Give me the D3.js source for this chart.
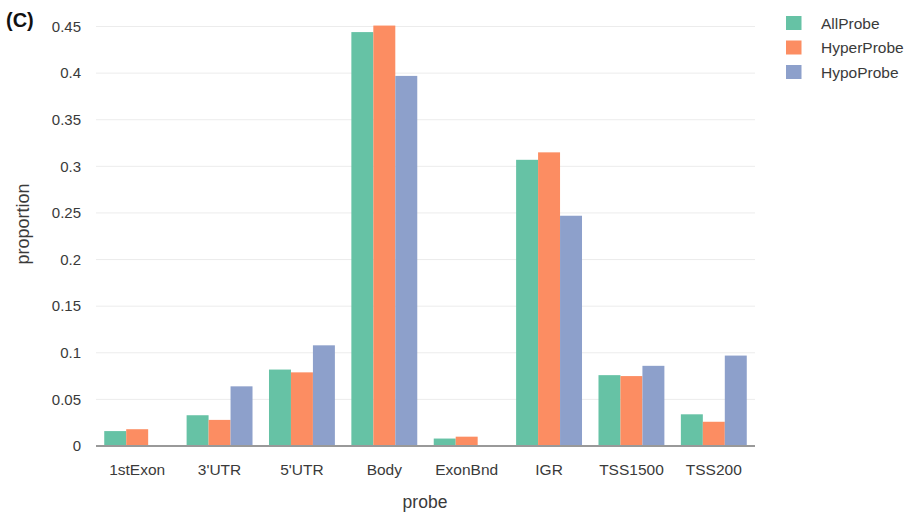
<!DOCTYPE html>
<html><head><meta charset="utf-8">
<script src="https://cdn.jsdelivr.net/npm/d3@7"></script>
<style>body{margin:0;background:#fff}svg{display:block;font-family:"Liberation Sans",Arial,sans-serif}</style>
</head><body><svg id="c" width="904" height="512"></svg>
<script>
const categories = ["1stExon","3'UTR","5'UTR","Body","ExonBnd","IGR","TSS1500","TSS200"];
const seriesNames = ["AllProbe","HyperProbe","HypoProbe"];
const allProbe   = [0.016,0.033,0.082,0.444,0.008,0.307,0.076,0.034];
const hyperProbe = [0.018,0.028,0.079,0.451,0.010,0.315,0.075,0.026];
const hypoProbe  = [0.000,0.064,0.108,0.397,0.000,0.247,0.086,0.097];
const yTicks = [0,0.05,0.1,0.15,0.2,0.25,0.3,0.35,0.4,0.45];
const colors = ["#66c2a5","#fc8d62","#8da0cb"];
const series = [allProbe, hyperProbe, hypoProbe];

const svg = d3.select("#c");
const pL = 96, pR = 755, pT = 26.5, pB = 446;
const x = d3.scaleBand().domain(categories).range([pL, pR]).paddingInner(0.2).paddingOuter(0.1);
const xs = d3.scaleBand().domain(seriesNames).range([0, x.bandwidth()]);
const y = d3.scaleLinear().domain([0, 0.45]).range([pB, pT]);
const txt = "#3a3a3a";

// grid
svg.append("g").selectAll("line").data(yTicks.filter(d=>d>0)).join("line")
  .attr("x1", pL).attr("x2", pR).attr("y1", d=>y(d)).attr("y2", d=>y(d))
  .attr("stroke", "#ececec").attr("stroke-width", 1);

// y axis labels
const yAxis = d3.axisLeft(y).tickValues(yTicks).tickSize(0).tickPadding(15).tickFormat(d=>String(+d.toFixed(2)));
const gy = svg.append("g").attr("transform", `translate(${pL},0)`).call(yAxis);
gy.select(".domain").remove();
gy.selectAll("text").attr("font-size", 15).attr("fill", txt).attr("font-family", "Liberation Sans, Arial, sans-serif");

// bars
const rows = categories.map((c,i)=>({c, vals: series.map((s,j)=>({name: seriesNames[j], v: s[i], color: colors[j]}))}));
svg.append("g").selectAll("g").data(rows).join("g")
  .attr("transform", d=>`translate(${x(d.c)},0)`)
  .selectAll("rect").data(d=>d.vals).join("rect")
  .attr("x", d=>xs(d.name)).attr("width", xs.bandwidth())
  .attr("y", d=>y(d.v)).attr("height", d=>pB - y(d.v))
  .attr("fill", d=>d.color);

// x axis
const xAxis = d3.axisBottom(x).tickSize(0).tickPadding(18);
const gx = svg.append("g").attr("transform", `translate(0,${pB})`).call(xAxis);
gx.select(".domain").attr("stroke", "#999").attr("stroke-width", 2).attr("d", `M${pL},0H${pR}`);
gx.selectAll("text").attr("font-size", 15.5).attr("fill", txt).attr("font-family", "Liberation Sans, Arial, sans-serif");

// axis titles
svg.append("text").attr("x", 425).attr("y", 508).attr("text-anchor", "middle")
  .attr("font-size", 17.5).attr("fill", txt).text("probe");
svg.append("text").attr("transform", `translate(29,224) rotate(-90)`).attr("text-anchor", "middle")
  .attr("font-size", 18).attr("fill", txt).text("proportion");

// panel label
svg.append("text").attr("x", 6).attr("y", 27).attr("font-size", 20).attr("font-weight", "bold").attr("fill", "#111").text("(C)");

// legend
const lg = svg.append("g").attr("transform", "translate(786,16)");
seriesNames.forEach((n,i)=>{
  lg.append("rect").attr("x",0).attr("y",i*24.5).attr("width",15.5).attr("height",14).attr("fill",colors[i]);
  lg.append("text").attr("x",35).attr("y",i*24.5+12.5).attr("font-size",15.5).attr("fill",txt).text(n);
});
</script></body></html>
